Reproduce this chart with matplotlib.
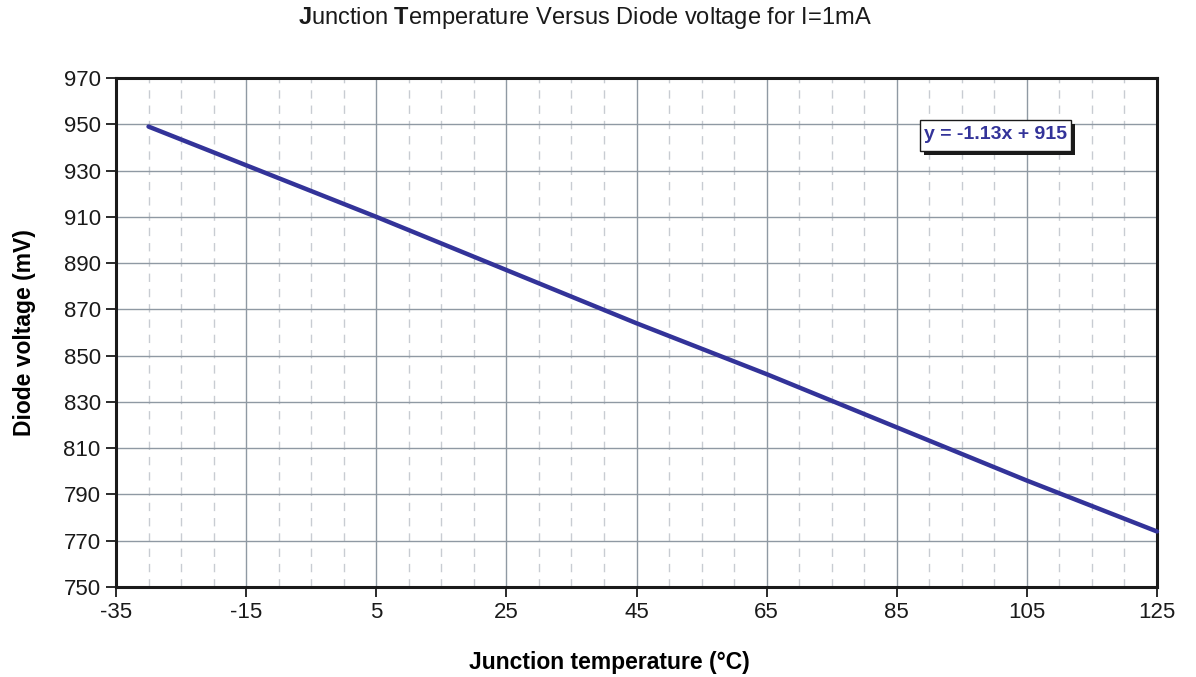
import matplotlib
matplotlib.use("Agg")
import matplotlib.pyplot as plt
from matplotlib.patches import Rectangle
from matplotlib.transforms import IdentityTransform
import numpy as np

# measured junction temperature (°C) vs diode voltage (mV) at I = 1 mA
temp_c = [-30, 5, 25, 45, 65, 85, 105, 125]
diode_mv = [949, 910, 887, 864, 842, 819, 796, 774]

x_ticks = list(range(-35, 126, 20))
y_ticks = list(range(750, 971, 20))
fit_label = "y = -1.13x + 915"

plt.rcParams["font.family"] = ["Liberation Sans", "DejaVu Sans"]
plt.rcParams["mathtext.fontset"] = "custom"
plt.rcParams["mathtext.rm"] = "Liberation Sans"
plt.rcParams["mathtext.bf"] = "Liberation Sans:bold"
plt.rcParams["axes.unicode_minus"] = False

fig = plt.figure(figsize=(11.96, 6.77), dpi=100)
ax = fig.add_axes([116 / 1196, 1 - 587 / 677, 1041 / 1196, 509 / 677])

ax.set_xlim(-35, 125)
ax.set_ylim(750, 970)
ax.set_xticks(x_ticks)
ax.set_yticks(y_ticks)
ax.set_xticks(np.arange(-30, 125, 5), minor=True)

# grid: solid majors, dashed minor verticals
ax.grid(True, which="major", color="#8f99a3", linewidth=1.0, zorder=0)
ax.grid(True, which="minor", axis="x", color="#c8ccd2", linewidth=1.0,
        linestyle=(0, (6, 5)), zorder=0)
ax.set_axisbelow(True)

ax.plot(temp_c, diode_mv, color="#333399", linewidth=3.2,
        solid_capstyle="round", zorder=3, clip_on=False)

for s in ax.spines.values():
    s.set_linewidth(2.2)
    s.set_color("#1a1a1a")

ax.tick_params(which="major", direction="out", length=7, width=1.3,
               labelsize=16, colors="#1a1a1a", pad=4)
ax.tick_params(which="minor", length=0)

ax.set_xlabel("Junction temperature (°C)", fontsize=16.5, fontweight="bold",
              va="center")
ax.xaxis.set_label_coords((609 - 116) / 1041, -(662 - 587) / 509)
ax.set_ylabel("Diode voltage (mV)", fontsize=16.5, fontweight="bold",
              labelpad=20)

fig.text(585 / 1196, 1 - 18 / 677,
         r"$\mathbf{J}$unction $\mathbf{T}$emperature Versus Diode voltage for I=1mA",
         ha="center", va="center", fontsize=17, color="#1a1a1a")

# trendline equation label in a white box with drop shadow
eq = ax.text(100.2, 945.7, fit_label, ha="center", va="center", fontsize=14,
             fontweight="bold", color="#333399", zorder=7)
fig.canvas.draw()
tb = eq.get_window_extent()
bx0, by0 = tb.x0 - 4, tb.y0 - 8
bw, bh = tb.width + 8, tb.height + 14
ax.add_artist(Rectangle((bx0 + 4, by0 - 4), bw, bh, transform=IdentityTransform(),
                        facecolor="#1a1a1a", edgecolor="none", zorder=5,
                        clip_on=False))
ax.add_artist(Rectangle((bx0, by0), bw, bh, transform=IdentityTransform(),
                        facecolor="white", edgecolor="#1a1a1a", linewidth=1.0,
                        zorder=6, clip_on=False))

fig.savefig("out.png", dpi=100)
